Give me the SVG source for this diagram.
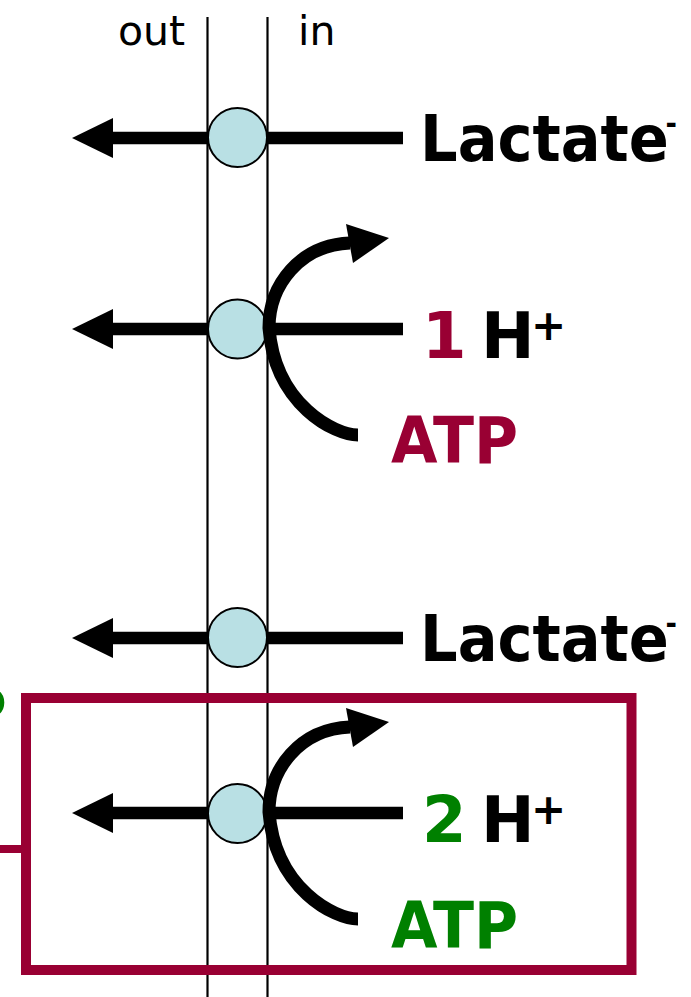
<svg xmlns="http://www.w3.org/2000/svg" width="691" height="997" viewBox="0 0 691 997">
<style>
.mem{stroke:#000;stroke-width:2.2;fill:none}
.bar{stroke:#000;stroke-width:12.5;fill:none}
.curve{stroke:#000;stroke-width:13;fill:none;stroke-linecap:butt}
.head{fill:#000}
.carrier{fill:#b9e0e4;stroke:#000;stroke-width:2}
.lbl{font-family:"DejaVu Sans","Verdana",sans-serif;font-size:41px;fill:#000}
.big{font-family:"DejaVu Sans","Verdana",sans-serif;font-weight:bold;font-size:64px;fill:#000}
.maroon{fill:#990033}
.green{fill:#008000}
.box{fill:none;stroke:#990033;stroke-width:10}
</style>
<defs>
<g id="hcurve">
<path class="curve" d="M358,435 C335,435 275,405 269,328 C269,285 300,245 350,243"/>
<polygon class="head" points="346,224 389,238 353,263"/>
</g>
</defs>
<g id="membrane">
<line class="mem" x1="207.5" y1="17" x2="207.5" y2="997"/>
<line class="mem" x1="267.5" y1="17" x2="267.5" y2="997"/>
<text class="lbl" x="118" y="45">out</text>
<text class="lbl" x="298" y="45">in</text>
</g>
<g id="connectors">
<line class="bar" x1="110" y1="138" x2="403" y2="138"/>
<polygon class="head" points="72,138 113,118 113,158"/>
<line class="bar" x1="110" y1="329" x2="403" y2="329"/>
<polygon class="head" points="72,329 113,309 113,349"/>
<line class="bar" x1="110" y1="638" x2="403" y2="638"/>
<polygon class="head" points="72,638 113,618 113,658"/>
<line class="bar" x1="110" y1="813" x2="403" y2="813"/>
<polygon class="head" points="72,813 113,793 113,833"/>
</g>
<g id="carrier1"><circle class="carrier" cx="237.5" cy="137.5" r="29.5"/></g>
<g id="carrier2"><circle class="carrier" cx="237.5" cy="329" r="29.5"/></g>
<g id="carrier3"><circle class="carrier" cx="237.5" cy="637.5" r="29.5"/></g>
<g id="carrier4"><circle class="carrier" cx="237.5" cy="813.5" r="29.5"/></g>
<g id="atp-curve1"><use href="#hcurve"/></g>
<g id="atp-curve2"><use href="#hcurve" transform="translate(0,484)"/></g>
<g id="box">
<rect class="box" x="26" y="698" width="605.5" height="272"/>
<line x1="0" y1="849" x2="26" y2="849" stroke="#990033" stroke-width="8"/>
<text class="big green" x="-40" y="734">P</text>
</g>
<g id="lactate1">
<text class="big" font-size="66" transform="translate(420,161) scale(0.923,1)">Lactate<tspan x="266" y="-27" font-size="30">-</tspan></text>
</g>
<g id="proton1">
<text class="big" y="358"><tspan class="maroon" x="422">1</tspan><tspan x="481">H</tspan><tspan x="531" y="340" font-size="42">+</tspan></text>
<text class="big maroon" x="391" y="463" font-size="63" textLength="127" lengthAdjust="spacingAndGlyphs">ATP</text>
</g>
<g id="lactate2">
<text class="big" font-size="66" transform="translate(420,661) scale(0.923,1)">Lactate<tspan x="266" y="-27" font-size="30">-</tspan></text>
</g>
<g id="proton2">
<text class="big" y="842"><tspan class="green" x="422">2</tspan><tspan x="481">H</tspan><tspan x="531" y="824" font-size="42">+</tspan></text>
<text class="big green" x="391" y="948" font-size="63" textLength="127" lengthAdjust="spacingAndGlyphs">ATP</text>
</g>
</svg>
